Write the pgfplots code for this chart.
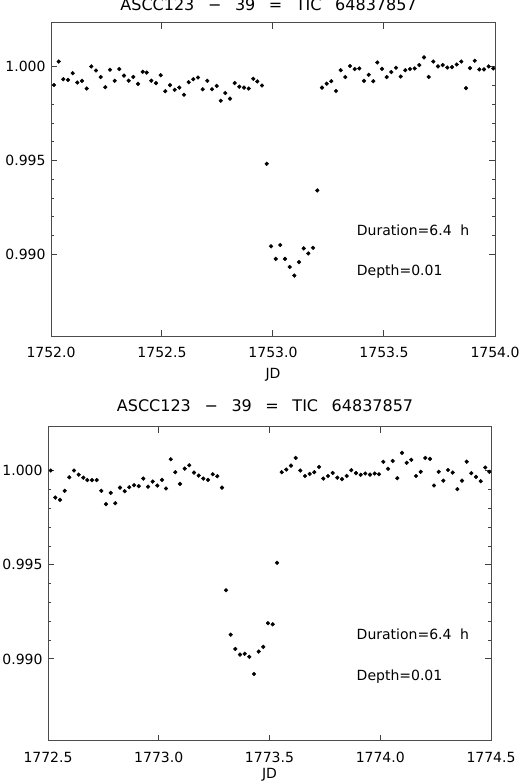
\documentclass[border=0pt]{standalone}
\usepackage{fontspec}
\setmainfont{DejaVu Sans}
\usepackage{pgfplots}
\usepackage{pgfplotstable}
\pgfplotsset{compat=1.18}

% ASCC123-39 light curve, first transit
\pgfplotstableread{
jd flux
1752.0135 0.99903
1752.0347 1.00028
1752.0554 0.99934
1752.0766 0.99930
1752.0977 0.99966
1752.1185 0.99916
1752.1396 0.99925
1752.1608 0.99884
1752.1815 1.00002
1752.2027 0.99980
1752.2239 0.99945
1752.2446 0.99891
1752.2658 0.99984
1752.2869 0.99925
1752.3077 0.99988
1752.3288 0.99953
1752.3500 0.99926
1752.3707 0.99946
1752.3919 0.99909
1752.4131 0.99973
1752.4311 0.99969
1752.4518 0.99926
1752.4730 0.99913
1752.4941 0.99955
1752.5149 0.99870
1752.5360 0.99902
1752.5572 0.99877
1752.5779 0.99889
1752.5991 0.99851
1752.6203 0.99918
1752.6410 0.99934
1752.6622 0.99943
1752.6833 0.99880
1752.7041 0.99925
1752.7252 0.99880
1752.7464 0.99898
1752.7644 0.99819
1752.7851 0.99860
1752.8063 0.99830
1752.8275 0.99913
1752.8482 0.99894
1752.8694 0.99889
1752.8905 0.99884
1752.9113 0.99936
1752.9293 0.99922
1752.9505 0.99900
1752.9716 0.99483
1752.9910 0.99043
1753.0122 0.98976
1753.0329 0.99050
1753.0541 0.98976
1753.0752 0.98933
1753.0959 0.98887
1753.1171 0.98959
1753.1383 0.99032
1753.1590 0.99005
1753.1802 0.99035
1753.1995 0.99341
1753.2207 0.99889
1753.2419 0.99910
1753.2626 0.99923
1753.2838 0.99871
1753.3050 0.99982
1753.3257 0.99945
1753.3468 1.00004
1753.3680 0.99988
1753.3887 0.99991
1753.4099 0.99925
1753.4311 0.99957
1753.4518 0.99923
1753.4698 1.00023
1753.4910 0.99989
1753.5122 0.99945
1753.5329 0.99972
1753.5541 0.99995
1753.5752 0.99948
1753.5959 0.99982
1753.6171 0.99988
1753.6383 0.99991
1753.6590 1.00009
1753.6802 1.00050
1753.7014 0.99946
1753.7221 1.00028
1753.7432 1.00002
1753.7644 1.00009
1753.7851 0.99996
1753.8063 0.99998
1753.8275 1.00012
1753.8482 1.00028
1753.8694 0.99886
1753.8874 0.99993
1753.9086 1.00032
1753.9293 0.99986
1753.9505 0.99986
1753.9716 1.00002
1753.9923 0.99991
}\datatop

% second transit
\pgfplotstableread{
jd flux
1772.5122 1.00002
1772.5330 0.99858
1772.5542 0.99846
1772.5754 0.99894
1772.5962 0.99966
1772.6174 1.00002
1772.6386 0.99980
1772.6594 0.99964
1772.6774 0.99951
1772.6986 0.99951
1772.7199 0.99951
1772.7406 0.99894
1772.7619 0.99823
1772.7831 0.99883
1772.8038 0.99828
1772.8251 0.99911
1772.8463 0.99892
1772.8670 0.99913
1772.8883 0.99924
1772.9095 0.99919
1772.9302 0.99959
1772.9515 0.99916
1772.9727 0.99943
1772.9935 0.99922
1773.0147 0.99952
1773.0327 0.99906
1773.0540 1.00062
1773.0747 0.99993
1773.0959 0.99931
1773.1172 1.00012
1773.1379 1.00030
1773.1591 0.99991
1773.1804 0.99975
1773.2011 0.99959
1773.2223 0.99952
1773.2436 0.99982
1773.2643 0.99972
1773.2856 0.99911
1773.3036 0.99365
1773.3248 0.99129
1773.3456 0.99053
1773.3668 0.99023
1773.3880 0.99027
1773.4088 0.99011
1773.4300 0.98920
1773.4512 0.99039
1773.4720 0.99064
1773.4932 0.99190
1773.5144 0.99184
1773.5339 0.99511
1773.5551 0.99993
1773.5758 1.00007
1773.5971 1.00028
1773.6183 1.00069
1773.6391 1.00002
1773.6603 0.99973
1773.6815 0.99984
1773.7023 0.99993
1773.7235 1.00021
1773.7429 0.99959
1773.7641 0.99973
1773.7853 0.99989
1773.8061 0.99964
1773.8273 0.99956
1773.8485 0.99973
1773.8693 1.00004
1773.8905 0.99988
1773.9117 0.99979
1773.9325 0.99986
1773.9537 0.99980
1773.9749 0.99986
1773.9944 0.99982
1774.0138 1.00048
1774.0350 1.00011
1774.0562 1.00053
1774.0770 0.99961
1774.0982 1.00096
1774.1194 1.00043
1774.1402 1.00059
1774.1614 0.99973
1774.1826 0.99995
1774.2034 1.00069
1774.2246 1.00064
1774.2427 0.99922
1774.2639 0.99995
1774.2847 0.99948
1774.3059 1.00005
1774.3271 0.99991
1774.3479 0.99903
1774.3691 0.99948
1774.3903 1.00049
1774.4111 0.99988
1774.4323 0.99968
1774.4535 0.99945
1774.4743 1.00018
1774.4923 0.99995
}\databot

\pgfplotsset{
    lcstyle/.style={
        scale only axis,
        anchor=south west,
        ymin=0.98565, ymax=1.00235,
        ytick={0.990,0.995,1.000},
        minor y tick num=4,
        minor x tick num=4,
        xtick pos=both, ytick pos=both,
        tick align=inside,
        major tick length=0.21cm,
        minor tick length=0.11cm,
        axis line style={black!70, line width=0.9bp},
        xtick style={black!75, line width=1bp},
        ytick style={black!75, line width=1bp},
        minor tick style={black!75, line width=1bp},
        tick label style={font=\fontsize{14bp}{16bp}\selectfont},
        /pgf/number format/assume math mode=true,
        xticklabel style={/pgf/number format/fixed, /pgf/number format/fixed zerofill,
            /pgf/number format/precision=1, /pgf/number format/1000 sep={}, yshift=-8bp},
        yticklabel style={/pgf/number format/fixed, /pgf/number format/fixed zerofill,
            /pgf/number format/precision=3, xshift=-2bp},
        title style={font=\fontsize{16bp}{18bp}\selectfont, at={(axis description cs:0.49,1)}, anchor=base},
        every axis x label/.style={at={(axis description cs:0.5,0)}, anchor=center, font=\fontsize{14bp}{16bp}\selectfont},
    },
}

\newcommand{\ttl}{ASCC123\hspace{0.85em}\textminus\hspace{0.85em}39\hspace{0.85em}=\hspace{0.85em}TIC\hspace{0.85em}64837857}

\begin{document}
\begin{tikzpicture}
\path[use as bounding box] (0,0) rectangle (520bp,782bp);

\begin{axis}[lcstyle,
    at={(51bp,446bp)}, width=444bp, height=313.3bp,
    xmin=1752, xmax=1754, xtick={1752,1752.5,...,1754},
    title={\ttl}, title style={yshift=6bp},
    xlabel={JD}, xlabel style={yshift=-39bp},
]
\addplot[only marks, mark=*, mark size=1.9bp, black] table[x=jd, y=flux] {\datatop};
\node[anchor=west, font=\fontsize{14bp}{16bp}\selectfont] at (rel axis cs:0.681,0.338) {Duration=6.4\hspace{0.3em} h};
\node[anchor=west, font=\fontsize{14bp}{16bp}\selectfont] at (rel axis cs:0.681,0.205) {Depth=0.01};
\end{axis}

\begin{axis}[lcstyle,
    at={(48bp,41.3bp)}, width=443bp, height=314bp,
    xmin=1772.5, xmax=1774.5, xtick={1772.5,1773,...,1774.5},
    title={\ttl}, title style={yshift=9.5bp},
    xlabel={JD}, xlabel style={yshift=-34bp},
]
\addplot[only marks, mark=*, mark size=1.9bp, black] table[x=jd, y=flux] {\databot};
\node[anchor=west, font=\fontsize{14bp}{16bp}\selectfont] at (rel axis cs:0.689,0.338) {Duration=6.4\hspace{0.3em} h};
\node[anchor=west, font=\fontsize{14bp}{16bp}\selectfont] at (rel axis cs:0.689,0.205) {Depth=0.01};
\end{axis}
\end{tikzpicture}
\end{document}
